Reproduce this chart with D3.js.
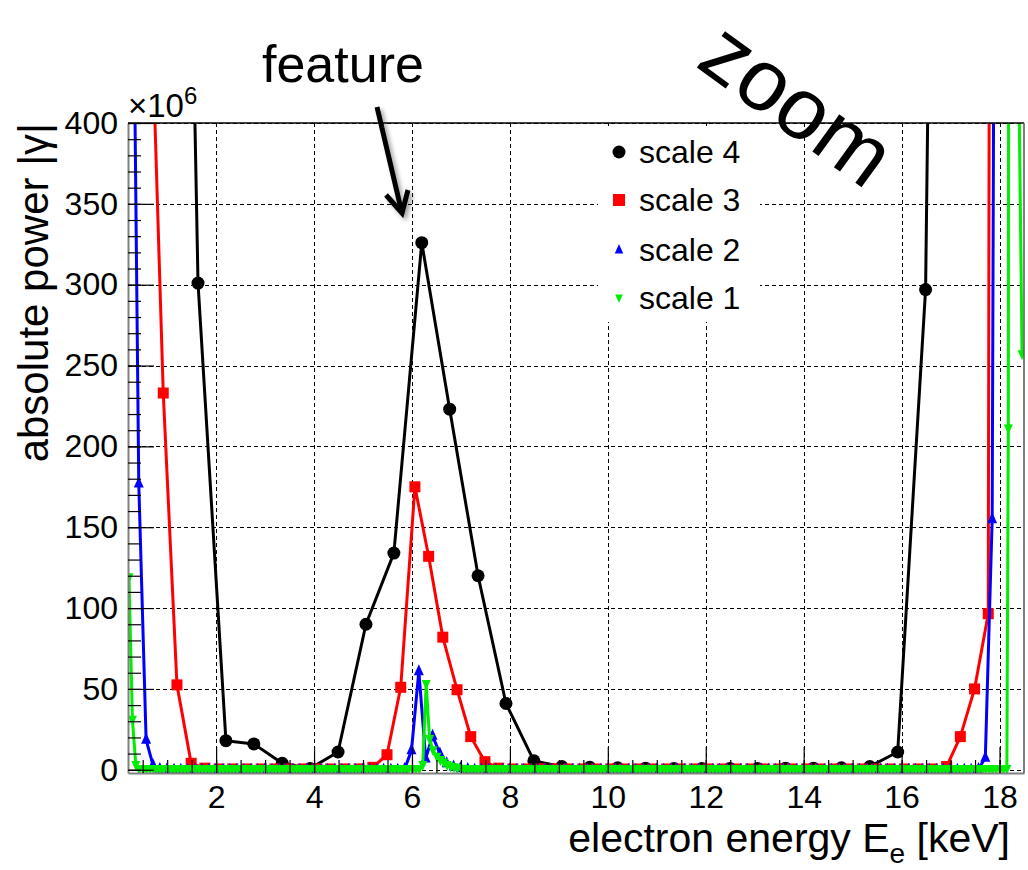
<!DOCTYPE html>
<html>
<head>
<meta charset="utf-8">
<script src="https://cdn.jsdelivr.net/npm/d3@7"></script>
<style>
  body { margin: 0; background: #fff; }
  svg { font-family: "Liberation Sans", Arial, sans-serif; }
</style>
</head>
<body>
<svg id="chart" width="1028" height="870"></svg>
<script>
// tick labels
const xTicks = [2, 4, 6, 8, 10, 12, 14, 16, 18];
const yTicks = [0, 50, 100, 150, 200, 250, 300, 350, 400];

// scale 4 (black circles)
const scale4X = [1.06, 1.63, 2.20, 2.77, 3.35, 3.92, 4.49, 5.06, 5.63, 6.20, 6.77, 7.35, 7.92, 8.49, 9.06,
  9.63, 10.20, 10.77, 11.35, 11.92, 12.49, 13.06, 13.63, 14.20, 14.77, 15.35, 15.92, 16.49, 17.06];
const scale4Y = [1200, 301, 18, 16, 4, 0.8, 11, 90, 134, 326, 223, 120, 41, 5.5, 2,
  1.5, 1.2, 1, 0.8, 0.8, 0.8, 0.8, 1, 1, 1.2, 2, 11, 297, 1700];

// scale 3 (red squares)
const scale3X = [0.63, 0.92, 1.20, 1.49, 1.77, 2.06, 2.34, 2.63, 2.92, 3.20, 3.49, 3.77, 4.06, 4.34, 4.63, 4.92,
  5.20, 5.49, 5.77, 6.06, 6.34, 6.63, 6.92, 7.20, 7.49, 7.77,
  8.06, 8.34, 8.63, 8.92, 9.20, 9.49, 9.77, 10.06, 10.34, 10.63, 10.92, 11.20, 11.49, 11.77,
  12.06, 12.34, 12.63, 12.92, 13.20, 13.49, 13.77, 14.06, 14.34, 14.63, 14.92, 15.20, 15.49, 15.77,
  16.06, 16.34, 16.63, 16.92, 17.20, 17.49, 17.77, 18.06];
const scale3Y = [520, 233, 52.5, 4, 1, 0.5, 0.5, 0.5, 0.5, 0.5, 0.5, 0.5, 0.5, 0.5, 0.5, 0.5,
  1.5, 9.3, 51, 175, 132, 82, 49.5, 20.5, 5, 1,
  0.5, 0.5, 0.5, 0.5, 0.5, 0.5, 0.5, 0.5, 0.5, 0.5, 0.5, 0.5, 0.5, 0.5,
  0.5, 0.5, 0.5, 0.5, 0.5, 0.5, 0.5, 0.5, 0.5, 0.5, 0.5, 0.5, 0.5, 0.5,
  0.5, 0.5, 0.5, 2, 20.5, 50, 96.5, 5000];

// scale 2 (blue triangles up)
const scale2X = [0.28, 0.42, 0.57, 0.71, 0.85, 0.99, 1.14,
  1.28, 1.42, 1.57, 1.71, 1.85, 1.99, 2.14,
  2.28, 2.42, 2.57, 2.71, 2.85, 2.99, 3.14,
  3.28, 3.42, 3.57, 3.71, 3.85, 3.99, 4.14,
  4.28, 4.42, 4.57, 4.71, 4.85, 4.99, 5.14,
  5.28, 5.42, 5.57, 5.71, 5.85, 5.99, 6.14,
  6.28, 6.42, 6.57, 6.71, 6.85, 6.99, 7.14,
  7.28, 7.42, 7.57, 7.71, 7.85, 7.99, 8.14,
  8.28, 8.42, 8.57, 8.71, 8.85, 8.99, 9.14,
  9.28, 9.42, 9.57, 9.71, 9.85, 9.99, 10.14,
  10.28, 10.42, 10.57, 10.71, 10.85, 10.99, 11.14,
  11.28, 11.42, 11.57, 11.71, 11.85, 11.99, 12.14,
  12.28, 12.42, 12.57, 12.71, 12.85, 12.99, 13.14,
  13.28, 13.42, 13.57, 13.71, 13.85, 13.99, 14.14,
  14.28, 14.42, 14.57, 14.71, 14.85, 14.99, 15.14,
  15.28, 15.42, 15.57, 15.71, 15.85, 15.99, 16.14,
  16.28, 16.42, 16.57, 16.71, 16.85, 16.99, 17.14,
  17.28, 17.42, 17.57, 17.71, 17.85, 17.99];
const scale2Y = [590, 177, 18.5, 3, 0.5, 0, 0,
  0, 0, 0, 0, 0, 0, 0,
  0, 0, 0, 0, 0, 0, 0,
  0, 0, 0, 0, 0, 0, 0,
  0, 0, 0, 0, 0, 0, 0,
  0, 0, 0, 0, 0.5, 12, 61,
  7, 21, 10, 4, 2, 1, 0.5,
  0, 0, 0, 0, 0, 0, 0,
  0, 0, 0, 0, 0, 0, 0,
  0, 0, 0, 0, 0, 0, 0,
  0, 0, 0, 0, 0, 0, 0,
  0, 0, 0, 0, 0, 0, 0,
  0, 0, 0, 0, 0, 0, 0,
  0, 0, 0, 0, 0, 0, 0,
  0, 0, 0, 0, 0, 0, 0,
  0, 0, 0, 0, 0, 0, 0,
  0, 0, 0, 0, 0, 0, 0,
  0, 0, 0.5, 7.4, 155, 1400];

// scale 1 (green triangles down)
const scale1X = [0.22, 0.29, 0.36, 0.43, 0.51, 0.58, 0.65, 0.72, 0.79, 0.86, 0.93, 1.01, 1.08, 1.15,
  1.22, 1.29, 1.36, 1.43, 1.51, 1.58, 1.65, 1.72, 1.79, 1.86, 1.93, 2.01, 2.08, 2.15,
  2.22, 2.29, 2.36, 2.43, 2.51, 2.58, 2.65, 2.72, 2.79, 2.86, 2.93, 3.01, 3.08, 3.15,
  3.22, 3.29, 3.36, 3.43, 3.51, 3.58, 3.65, 3.72, 3.79, 3.86, 3.93, 4.01, 4.08, 4.15,
  4.22, 4.29, 4.36, 4.43, 4.51, 4.58, 4.65, 4.72, 4.79, 4.86, 4.93, 5.01, 5.08, 5.15,
  5.22, 5.29, 5.36, 5.43, 5.51, 5.58, 5.65, 5.72, 5.79, 5.86, 5.93, 6.01, 6.08, 6.15,
  6.22, 6.29, 6.36, 6.43, 6.51, 6.58, 6.65, 6.72, 6.79, 6.86, 6.93, 7.01, 7.08, 7.15,
  7.22, 7.29, 7.36, 7.43, 7.51, 7.58, 7.65, 7.72, 7.79, 7.86, 7.93, 8.01, 8.08, 8.15,
  8.22, 8.29, 8.36, 8.43, 8.51, 8.58, 8.65, 8.72, 8.79, 8.86, 8.93, 9.01, 9.08, 9.15,
  9.22, 9.29, 9.36, 9.43, 9.51, 9.58, 9.65, 9.72, 9.79, 9.86, 9.93, 10.01, 10.08, 10.15,
  10.22, 10.29, 10.36, 10.43, 10.51, 10.58, 10.65, 10.72, 10.79, 10.86, 10.93, 11.01, 11.08, 11.15,
  11.22, 11.29, 11.36, 11.43, 11.51, 11.58, 11.65, 11.72, 11.79, 11.86, 11.93, 12.01, 12.08, 12.15,
  12.22, 12.29, 12.36, 12.43, 12.51, 12.58, 12.65, 12.72, 12.79, 12.86, 12.93, 13.01, 13.08, 13.15,
  13.22, 13.29, 13.36, 13.43, 13.51, 13.58, 13.65, 13.72, 13.79, 13.86, 13.93, 14.01, 14.08, 14.15,
  14.22, 14.29, 14.36, 14.43, 14.51, 14.58, 14.65, 14.72, 14.79, 14.86, 14.93, 15.01, 15.08, 15.15,
  15.22, 15.29, 15.36, 15.43, 15.51, 15.58, 15.65, 15.72, 15.79, 15.86, 15.93, 16.01, 16.08, 16.15,
  16.22, 16.29, 16.36, 16.43, 16.51, 16.58, 16.65, 16.72, 16.79, 16.86, 16.93, 17.01, 17.08, 17.15,
  17.22, 17.29, 17.36, 17.43, 17.51, 17.58, 17.65, 17.72, 17.79, 17.86, 17.93, 18.01, 18.08, 18.15,
  18.18, 18.25, 18.32, 18.39, 18.46];
const scale1Y = [119, 31, 3, 0.3, 0.3, 0.3, 0.3, 0.3, 0.3, 0.3, 0.3, 0.3, 0.3, 0.3,
  0.3, 0.3, 0.3, 0.3, 0.3, 0.3, 0.3, 0.3, 0.3, 0.3, 0.3, 0.3, 0.3, 0.3,
  0.3, 0.3, 0.3, 0.3, 0.3, 0.3, 0.3, 0.3, 0.3, 0.3, 0.3, 0.3, 0.3, 0.3,
  0.3, 0.3, 0.3, 0.3, 0.3, 0.3, 0.3, 0.3, 0.3, 0.3, 0.3, 0.3, 0.3, 0.3,
  0.3, 0.3, 0.3, 0.3, 0.3, 0.3, 0.3, 0.3, 0.3, 0.3, 0.3, 0.3, 0.3, 0.3,
  0.3, 0.3, 0.3, 0.3, 0.3, 0.3, 0.3, 0.3, 0.3, 0.3, 0.3, 0.3, 0.3, 0.5,
  3, 53, 19, 12, 8, 6, 4.5, 3, 2, 1.5, 1, 0.6, 0.3, 0.3,
  0.3, 0.3, 0.3, 0.3, 0.3, 0.3, 0.3, 0.3, 0.3, 0.3, 0.3, 0.3, 0.3, 0.3,
  0.3, 0.3, 0.3, 0.3, 0.3, 0.3, 0.3, 0.3, 0.3, 0.3, 0.3, 0.3, 0.3, 0.3,
  0.3, 0.3, 0.3, 0.3, 0.3, 0.3, 0.3, 0.3, 0.3, 0.3, 0.3, 0.3, 0.3, 0.3,
  0.3, 0.3, 0.3, 0.3, 0.3, 0.3, 0.3, 0.3, 0.3, 0.3, 0.3, 0.3, 0.3, 0.3,
  0.3, 0.3, 0.3, 0.3, 0.3, 0.3, 0.3, 0.3, 0.3, 0.3, 0.3, 0.3, 0.3, 0.3,
  0.3, 0.3, 0.3, 0.3, 0.3, 0.3, 0.3, 0.3, 0.3, 0.3, 0.3, 0.3, 0.3, 0.3,
  0.3, 0.3, 0.3, 0.3, 0.3, 0.3, 0.3, 0.3, 0.3, 0.3, 0.3, 0.3, 0.3, 0.3,
  0.3, 0.3, 0.3, 0.3, 0.3, 0.3, 0.3, 0.3, 0.3, 0.3, 0.3, 0.3, 0.3, 0.3,
  0.3, 0.3, 0.3, 0.3, 0.3, 0.3, 0.3, 0.3, 0.3, 0.3, 0.3, 0.3, 0.3, 0.3,
  0.3, 0.3, 0.3, 0.3, 0.3, 0.3, 0.3, 0.3, 0.3, 0.3, 0.3, 0.3, 0.3, 0.3,
  0.3, 0.3, 0.3, 0.3, 0.3, 0.3, 0.3, 0.3, 0.3, 0.3, 0.3, 0.3, 0.3, 0.5,
  211, 3000, 2000, 440, 257];

const seriesNames = ["scale 4", "scale 3", "scale 2", "scale 1"];
const seriesColors = ["#000000", "#ff0000", "#0000ff", "#00ee00"];

const svg = d3.select("#chart");
const frame = {left: 128, right: 1024, top: 123, bottom: 773};

const x = d3.scaleLinear().domain([0.2, 18.5]).range([frame.left, frame.right]);
const y = d3.scaleLinear().domain([-2, 400]).range([frame.bottom, frame.top]);

const defs = svg.append("defs");
defs.append("clipPath").attr("id", "plotclip")
  .append("rect")
  .attr("x", frame.left).attr("y", frame.top)
  .attr("width", frame.right - frame.left).attr("height", frame.bottom - frame.top);
defs.append("filter").attr("id", "shadow")
  .attr("x", -0.5).attr("y", -0.5).attr("width", 2).attr("height", 2)
  .append("feDropShadow")
  .attr("dx", 3).attr("dy", 3).attr("stdDeviation", 2)
  .attr("flood-color", "#000").attr("flood-opacity", 0.35);

// grid
const grid = svg.append("g").attr("stroke", "#000").attr("stroke-width", 1)
  .attr("stroke-dasharray", "4,3").attr("shape-rendering", "crispEdges");
grid.selectAll(".gx").data(xTicks).join("line")
  .attr("x1", d => Math.round(x(d)) + 0.5).attr("x2", d => Math.round(x(d)) + 0.5)
  .attr("y1", frame.top).attr("y2", frame.bottom);
grid.selectAll(".gy").data(yTicks).join("line")
  .attr("y1", d => Math.round(y(d)) + 0.5).attr("y2", d => Math.round(y(d)) + 0.5)
  .attr("x1", frame.left).attr("x2", frame.right);

// markers
function markerPath(kind, big) {
  const s = big ? 1 : 0.85;
  if (kind === "up") return `M0,${-7 * s}L${5 * s},${4 * s}L${-5 * s},${4 * s}Z`;
  if (kind === "down") return `M0,${6 * s}L${4.5 * s},${-4 * s}L${-4.5 * s},${-4 * s}Z`;
  return "";
}

function drawSeries(xs, ys, color, kind) {
  const pts = xs.map((v, i) => [v, ys[i]]);
  const g = svg.append("g").attr("clip-path", "url(#plotclip)");
  g.append("path")
    .datum(pts)
    .attr("fill", "none")
    .attr("stroke", color)
    .attr("stroke-width", 3)
    .attr("stroke-linejoin", "round")
    .attr("d", d3.line().x(d => x(d[0])).y(d => y(d[1])));
  const m = g.selectAll(".m").data(pts.filter(d => d[1] < 420)).join("g")
    .attr("transform", d => `translate(${x(d[0])},${y(d[1])})`)
    .attr("fill", color);
  if (kind === "circle") m.append("circle").attr("r", 6.5);
  else if (kind === "square") m.append("rect").attr("x", -5.5).attr("y", -5.5).attr("width", 11).attr("height", 11);
  else m.append("path").attr("d", markerPath(kind, true));
}

drawSeries(scale4X, scale4Y, seriesColors[0], "circle");
drawSeries(scale3X, scale3Y, seriesColors[1], "square");
drawSeries(scale2X, scale2Y, seriesColors[2], "up");
drawSeries(scale1X, scale1Y, seriesColors[3], "down");

// axes (ticks inward, ROOT style)
const axisColor = "#808080";
const xAxis = svg.append("g").attr("transform", `translate(0,${frame.bottom})`)
  .call(d3.axisBottom(x).tickValues(xTicks).tickSize(-26).tickSizeOuter(0).tickPadding(12));
svg.append("g").attr("transform", `translate(0,${frame.bottom})`)
  .call(d3.axisBottom(x).tickValues(d3.range(0.5, 18.5, 0.5)).tickSize(-13).tickSizeOuter(0).tickFormat(""))
  .call(g => g.select(".domain").remove());
const yAxis = svg.append("g").attr("transform", `translate(${frame.left},0)`)
  .call(d3.axisLeft(y).tickValues(yTicks).tickSize(-26).tickSizeOuter(0).tickPadding(10));
svg.append("g").attr("transform", `translate(${frame.left},0)`)
  .call(d3.axisLeft(y).tickValues(d3.range(0, 401, 10)).tickSize(-13).tickSizeOuter(0).tickFormat(""))
  .call(g => g.select(".domain").remove());

svg.selectAll(".tick line").attr("stroke", "#000").attr("stroke-width", 1.2);
[xAxis, yAxis].forEach(a => {
  a.select(".domain").attr("stroke", axisColor).attr("stroke-width", 2);
  a.selectAll("text").attr("font-size", 32).attr("fill", "#000")
    .attr("font-family", "'Liberation Sans', Arial, sans-serif");
});

// frame top/right
svg.append("line").attr("x1", frame.left).attr("x2", frame.right)
  .attr("y1", frame.top).attr("y2", frame.top).attr("stroke", "#000").attr("stroke-width", 1.5);
svg.append("line").attr("x1", frame.right).attr("x2", frame.right)
  .attr("y1", frame.top).attr("y2", frame.bottom).attr("stroke", "#555").attr("stroke-width", 1.5);

// exponent
const expo = svg.append("text").attr("x", frame.left).attr("y", 117).attr("font-size", 33);
expo.append("tspan").text("×10");
expo.append("tspan").attr("font-size", 24).attr("dy", -13).text("6");

// axis titles
svg.append("text")
  .attr("transform", `translate(48,${frame.top}) rotate(-90)`)
  .attr("text-anchor", "end")
  .attr("font-size", 42)
  .text("absolute power |γ|");

const xt = svg.append("text").attr("x", 1010).attr("y", 852)
  .attr("text-anchor", "end").attr("font-size", 41);
xt.append("tspan").text("electron energy E");
xt.append("tspan").attr("font-size", 28).attr("dy", 11).text("e");
xt.append("tspan").attr("dy", -11).text(" [keV]");

// legend
const legend = svg.append("g");
legend.append("rect").attr("x", 598).attr("y", 126).attr("width", 162).attr("height", 196).attr("fill", "#fff");
const legendY = [152, 200, 250, 298];
const legendKinds = ["circle", "square", "up", "down"];
seriesNames.forEach((name, i) => {
  const row = legend.append("g").attr("transform", `translate(619,${legendY[i]})`);
  if (legendKinds[i] === "circle") row.append("circle").attr("r", 6.5).attr("fill", seriesColors[i]);
  else if (legendKinds[i] === "square") row.append("rect").attr("x", -6).attr("y", -6).attr("width", 12).attr("height", 12).attr("fill", seriesColors[i]);
  else row.append("path").attr("d", markerPath(legendKinds[i], false)).attr("fill", seriesColors[i]);
  row.append("text").attr("x", 20).attr("y", 11).attr("font-size", 32).text(name);
});

// annotations
svg.append("text").attr("x", 262).attr("y", 82).attr("font-size", 52).text("feature");

const arrow = svg.append("g").attr("filter", "url(#shadow)")
  .attr("stroke", "#000").attr("stroke-width", 5).attr("fill", "none")
  .attr("stroke-linecap", "butt").attr("stroke-linejoin", "miter");
arrow.append("line").attr("x1", 377).attr("y1", 107).attr("x2", 401).attr("y2", 209);
arrow.append("path").attr("d", "M386,195 L402,213 L408,190");

svg.append("text")
  .attr("transform", "translate(780,128) rotate(36)")
  .attr("text-anchor", "middle")
  .attr("font-size", 87)
  .text("zoom");
</script>
</body>
</html>
